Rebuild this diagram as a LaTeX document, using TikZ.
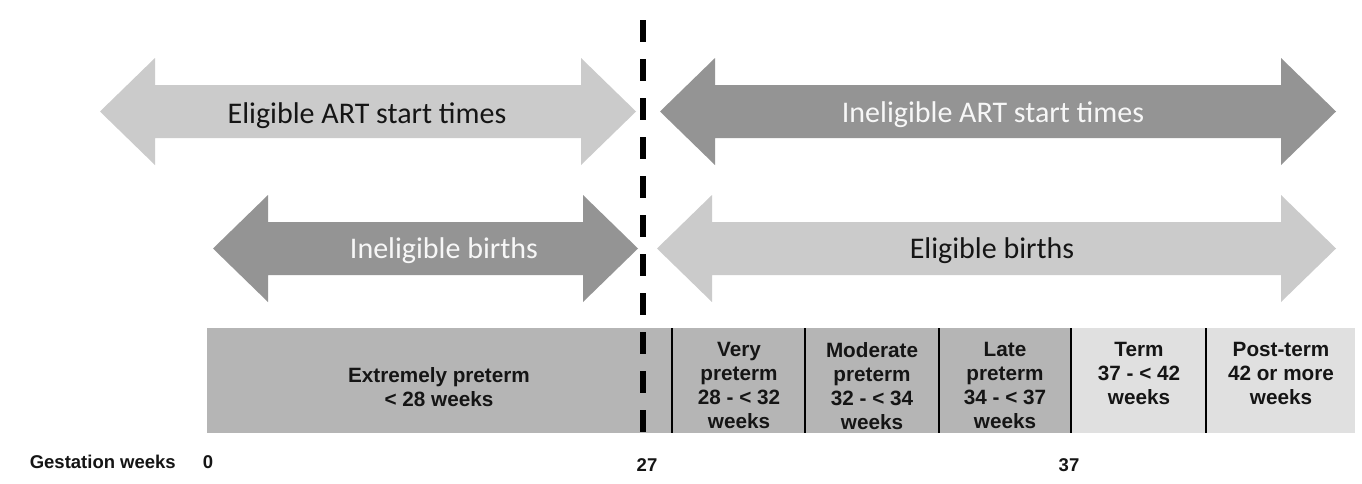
\documentclass[tikz,border=0pt]{standalone}
\usepackage{fontspec}
\newfontfamily\calfont{Carlito}
\newfontfamily\arfont{Liberation Sans}
\definecolor{arrowLight}{HTML}{CBCBCB}
\definecolor{arrowDark}{HTML}{949494}
\definecolor{barDark}{HTML}{B5B5B5}
\definecolor{barLight}{HTML}{E0E0E0}
\definecolor{txtDark}{HTML}{151515}
\definecolor{txtWhite}{HTML}{F7F7F7}
% double-headed block arrow: #1 left tip x, #2 right tip x, #3 middle y, #4 fill
\newcommand\dArrow[4]{%
  \fill[#4] (#1,#3) -- (#1+55,#3-53.5) -- (#1+55,#3-26.5) -- (#2-55,#3-26.5)
    -- (#2-55,#3-53.5) -- (#2,#3) -- (#2-55,#3+53.5) -- (#2-55,#3+26.5)
    -- (#1+55,#3+26.5) -- (#1+55,#3+53.5) -- cycle;}
\tikzset{
  arrowtext/.style={font=\calfont\fontsize{30}{36}\selectfont, anchor=base, inner sep=0pt},
  celltext/.style={font=\arfont\bfseries\fontsize{20.7}{24}\selectfont, text=txtDark,
    align=center, anchor=north, inner sep=0pt,
    execute at begin node={\vphantom{Mdl}}},
  axistext/.style={font=\arfont\bfseries\fontsize{18.5}{22}\selectfont, text=txtDark,
    anchor=base, inner sep=0pt},
  divider/.style={draw=black, line width=1.5pt},
  cutline/.style={draw=black, line width=6pt, dash pattern=on 22pt off 17pt}
}
\begin{document}
\begin{tikzpicture}[x=1pt,y=-1pt]
\useasboundingbox[fill=white] (0,0) rectangle (1362,483);

% block arrows
\dArrow{100}{636}{111.5}{arrowLight}
\dArrow{660}{1336}{111.5}{arrowDark}
\dArrow{213}{638}{248.5}{arrowDark}
\dArrow{657}{1336}{248.5}{arrowLight}

\node[arrowtext, text=txtDark]  (eart)  at (367,123) {Eligible ART start times};
\node[arrowtext, text=txtWhite] (iart)  at (993,122) {Ineligible ART start times};
\node[arrowtext, text=txtWhite] (ibir)  at (444,258) {Ineligible births};
\node[arrowtext, text=txtDark]  (ebir)  at (992,258) {Eligible births};

% bar
\fill[barDark]  (207,328) rectangle (1071,433);
\fill[barLight] (1071,328) rectangle (1355,433);
\foreach \xd in {672,805,939,1071,1206}
  \draw[divider] (\xd,328) -- (\xd,433);

\node[celltext] (ext)  at (439,367) {Extremely preterm\\< 28 weeks};
\node[celltext] (vp)   at (739,342) {Very\\preterm\\28 - < 32\\weeks};
\node[celltext] (mp)   at (872,342) {Moderate\\preterm\\32 - < 34\\weeks};
\node[celltext] (lp)   at (1005,342) {Late\\preterm\\34 - < 37\\weeks};
\node[celltext] (term) at (1139,342) {Term\\37 - < 42\\weeks};
\node[celltext] (post) at (1281,342) {Post-term\\42 or more\\weeks};

% axis labels
\node[axistext, anchor=base east] (gw) at (176,468) {Gestation weeks};
\node[axistext] (w0)  at (208,468) {0};
\node[axistext] (w27) at (647,471) {27};
\node[axistext] (w37) at (1069,471) {37};

% dashed cut line at week 27
\coordinate (dtop) at (643,20);
\coordinate (dbot) at (643,432);
\draw[cutline] (dtop) -- (dbot);
\end{tikzpicture}
\end{document}
